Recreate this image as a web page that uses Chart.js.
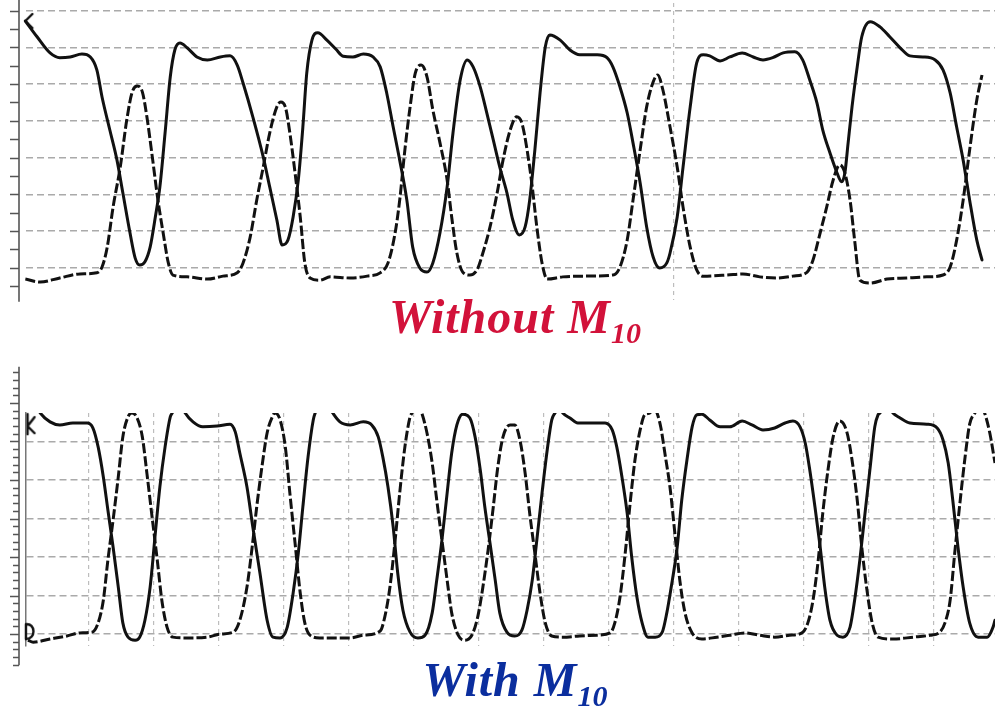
<!DOCTYPE html>
<html><head><meta charset="utf-8">
<script src="https://cdn.jsdelivr.net/npm/chart.js@4.4.1/dist/chart.umd.min.js"></script>
<style>
html,body{margin:0;padding:0;background:#fff;}
#wrap{position:relative;width:995px;height:709px;overflow:hidden;background:#fff;}
#c1{position:absolute;left:0;top:0;width:995px;height:310px;}
#c2{position:absolute;left:0;top:360px;width:995px;height:349px;}
.ttl{position:absolute;left:0;width:1030px;text-align:center;font-family:"Liberation Serif","Times New Roman",serif;font-style:italic;font-weight:bold;font-size:48px;line-height:48px;white-space:nowrap;letter-spacing:1px;}
.ttl sub{font-size:30px;vertical-align:-10px;line-height:0;letter-spacing:0;}
</style></head>
<body><div id="wrap">
<canvas id="c1" width="995" height="310"></canvas>
<canvas id="c2" width="995" height="349"></canvas>
<div class="ttl" style="top:293px;color:#D2123A">Without M<sub>10</sub></div>
<div class="ttl" style="top:656px;color:#0B2E9E">With M<sub>10</sub></div>
</div>
<script>
// ---- time axis (divisions) ----
const X_MIN = 0.03, X_MAX = 14.94;

// ---- top panel: Without M10 ----
const topSolidT = [0.02,0.20,0.40,0.55,0.71,0.89,1.02,1.12,1.20,1.32,1.43,1.52,1.63,1.71,1.78,1.86,1.94,2.02,2.09,2.17,2.25,2.32,2.40,2.51,2.66,2.82,3.02,3.17,3.28,3.37,3.52,3.68,3.78,3.89,3.97,4.06,4.14,4.22,4.29,4.35,4.43,4.52,4.66,4.80,4.91,5.06,5.22,5.37,5.48,5.58,5.68,5.78,5.89,5.98,6.09,6.20,6.29,6.40,6.51,6.60,6.71,6.82,6.91,7.02,7.12,7.22,7.32,7.43,7.52,7.62,7.71,7.78,7.86,7.94,8.02,8.09,8.25,8.40,8.55,8.82,8.97,9.06,9.17,9.28,9.37,9.48,9.58,9.68,9.78,9.89,9.94,10.05,10.14,10.25,10.35,10.45,10.55,10.71,10.86,11.05,11.22,11.37,11.52,11.68,11.86,11.98,12.09,12.20,12.29,12.40,12.51,12.58,12.63,12.68,12.74,12.82,12.89,13.02,13.17,13.32,13.48,13.63,13.83,14.02,14.14,14.25,14.35,14.45,14.55,14.66,14.74];
const topSolidV = [6.72,6.29,5.85,5.72,5.74,5.82,5.74,5.39,4.65,3.75,2.93,2.04,0.95,0.26,0.07,0.16,0.56,1.38,2.20,3.67,5.20,5.93,6.12,5.99,5.74,5.66,5.74,5.77,5.52,5.03,4.11,3.02,2.20,1.30,0.62,0.75,1.38,2.39,3.83,5.30,6.20,6.40,6.20,5.95,5.76,5.74,5.82,5.74,5.47,4.76,3.83,2.93,1.84,0.56,-0.01,-0.12,0.13,0.95,2.20,3.67,5.11,5.66,5.47,4.92,4.22,3.48,2.74,2.04,1.30,0.89,1.11,1.84,3.21,4.76,6.01,6.34,6.20,5.93,5.80,5.80,5.72,5.47,4.92,4.22,3.40,2.31,1.11,0.29,-0.01,0.13,0.40,1.38,2.74,4.38,5.58,5.80,5.77,5.63,5.74,5.85,5.74,5.66,5.72,5.85,5.88,5.66,5.11,4.49,3.75,3.13,2.58,2.34,2.58,3.40,4.38,5.47,6.29,6.70,6.56,6.29,5.99,5.77,5.74,5.66,5.39,4.76,3.83,2.93,1.84,0.75,0.21];
const topDashT = [0.02,0.25,0.55,0.86,1.12,1.20,1.28,1.37,1.48,1.58,1.66,1.74,1.82,1.89,1.98,2.06,2.14,2.22,2.29,2.51,2.82,3.06,3.28,3.37,3.48,3.58,3.68,3.78,3.89,3.95,4.02,4.09,4.17,4.25,4.32,4.40,4.55,4.71,5.02,5.28,5.48,5.60,5.71,5.78,5.86,5.94,6.02,6.11,6.20,6.29,6.40,6.51,6.58,6.66,6.75,6.86,6.97,7.06,7.17,7.28,7.37,7.48,7.58,7.66,7.74,7.82,7.89,7.97,8.05,8.29,8.60,9.06,9.17,9.28,9.37,9.48,9.58,9.68,9.75,9.83,9.94,10.05,10.14,10.25,10.35,10.45,10.82,11.06,11.32,11.58,11.83,12.05,12.14,12.25,12.35,12.45,12.55,12.63,12.71,12.78,12.86,13.02,13.28,13.58,13.89,14.14,14.25,14.35,14.45,14.55,14.66,14.74];
const topDashV = [-0.31,-0.39,-0.28,-0.17,-0.14,0.02,0.56,1.65,2.74,4.02,4.76,4.95,4.79,4.11,2.93,1.84,0.95,0.13,-0.20,-0.25,-0.31,-0.23,-0.14,0.13,0.84,1.84,2.74,3.67,4.38,4.51,4.38,3.67,2.58,1.38,0.13,-0.28,-0.34,-0.25,-0.28,-0.23,-0.14,0.13,0.95,1.84,3.21,4.38,5.30,5.52,5.20,4.30,3.40,2.39,1.38,0.40,-0.12,-0.20,-0.06,0.40,1.11,2.04,2.93,3.75,4.11,3.94,3.21,2.20,1.11,0.13,-0.31,-0.25,-0.23,-0.20,0.02,0.75,1.84,3.21,4.38,5.06,5.25,4.84,3.83,2.74,1.65,0.56,-0.06,-0.23,-0.20,-0.17,-0.25,-0.28,-0.23,-0.12,0.21,0.95,1.65,2.39,2.80,2.58,1.84,0.75,-0.34,-0.42,-0.31,-0.28,-0.25,-0.20,0.02,0.75,1.84,3.21,4.57,5.25];
const topMarkerT = [0.02];
const topMarkerV = [6.72];
const topGridV = [0,1,2,3,4,5,6,7];
const topGridT = [10];

// ---- bottom panel: With M10 ----
const botSolidT = [0.03,0.25,0.40,0.55,0.75,0.97,1.06,1.14,1.22,1.29,1.37,1.45,1.52,1.60,1.71,1.78,1.86,1.94,2.02,2.09,2.17,2.25,2.28,2.38,2.48,2.60,2.75,2.97,3.17,3.25,3.32,3.43,3.52,3.63,3.74,3.83,3.94,4.05,4.14,4.22,4.29,4.37,4.45,4.48,4.62,4.75,4.86,5.02,5.22,5.35,5.45,5.52,5.60,5.68,5.75,5.83,5.94,6.06,6.17,6.28,6.35,6.43,6.51,6.58,6.66,6.75,6.86,6.94,7.02,7.09,7.17,7.25,7.32,7.43,7.55,7.66,7.74,7.82,7.89,7.97,8.05,8.12,8.17,8.23,8.29,8.40,8.52,8.75,8.94,9.05,9.12,9.20,9.28,9.35,9.43,9.51,9.60,9.71,9.82,9.89,9.95,10.05,10.12,10.20,10.28,10.35,10.43,10.55,10.71,10.86,11.05,11.20,11.37,11.55,11.71,11.83,11.94,12.02,12.09,12.17,12.25,12.32,12.40,12.51,12.60,12.71,12.78,12.86,12.94,13.02,13.09,13.14,13.17,13.27,13.37,13.48,13.63,13.89,14.05,14.14,14.22,14.29,14.37,14.45,14.55,14.68,14.82,14.91,14.94];
const botSolidV = [6.40,5.74,5.51,5.43,5.48,5.48,5.35,4.86,4.08,3.22,2.26,1.22,0.29,-0.08,-0.16,-0.08,0.36,1.22,2.62,3.82,4.86,5.64,5.74,6.10,5.74,5.51,5.38,5.40,5.45,5.25,4.70,3.82,2.78,1.58,0.36,-0.08,-0.10,0.18,1.06,2.10,3.30,4.60,5.56,5.74,6.10,5.74,5.51,5.43,5.51,5.43,5.12,4.60,3.82,2.78,1.58,0.62,0.05,-0.10,-0.03,0.55,1.40,2.44,3.66,4.70,5.43,5.71,5.61,5.12,4.26,3.30,2.36,1.40,0.55,0.05,-0.05,0.10,0.62,1.40,2.44,3.66,4.78,5.56,5.74,5.90,5.74,5.61,5.48,5.48,5.48,5.30,4.86,4.08,3.14,2.00,0.96,0.29,-0.08,-0.08,0.05,0.55,1.14,2.26,3.48,4.52,5.38,5.69,5.71,5.56,5.38,5.38,5.53,5.43,5.30,5.35,5.48,5.53,5.38,4.96,4.26,3.30,2.26,1.22,0.36,-0.03,-0.08,0.18,0.88,1.92,3.14,4.34,5.38,5.69,5.74,6.00,5.74,5.61,5.48,5.45,5.35,5.04,4.44,3.48,2.26,1.22,0.29,-0.08,-0.08,0.18,0.36];
const botDashT = [0.06,0.14,0.40,0.66,0.86,1.05,1.14,1.22,1.29,1.37,1.45,1.52,1.60,1.66,1.74,1.82,1.89,1.97,2.05,2.12,2.20,2.29,2.51,2.82,3.02,3.22,3.32,3.43,3.51,3.58,3.66,3.74,3.82,3.86,3.94,4.02,4.09,4.17,4.25,4.32,4.40,4.55,4.75,5.02,5.22,5.48,5.55,5.63,5.71,5.78,5.86,5.94,5.97,6.05,6.12,6.20,6.28,6.35,6.43,6.51,6.58,6.68,6.78,6.89,6.98,7.06,7.14,7.22,7.29,7.37,7.48,7.55,7.63,7.71,7.78,7.86,7.94,8.02,8.12,8.29,8.55,8.82,9.02,9.09,9.17,9.25,9.32,9.40,9.48,9.55,9.63,9.69,9.75,9.80,9.86,9.94,10.02,10.09,10.17,10.28,10.43,10.66,10.86,11.09,11.32,11.55,11.78,11.97,12.06,12.14,12.22,12.29,12.37,12.45,12.55,12.66,12.74,12.82,12.89,12.97,13.05,13.14,13.37,13.68,13.94,14.09,14.17,14.25,14.32,14.40,14.48,14.55,14.63,14.71,14.78,14.86,14.94];
const botDashV = [-0.16,-0.21,-0.13,-0.05,0.03,0.05,0.29,0.88,1.92,2.96,4.08,5.12,5.64,5.74,5.61,5.12,4.18,3.04,1.92,0.88,0.18,-0.08,-0.10,-0.08,0.00,0.05,0.36,1.22,2.26,3.30,4.34,5.22,5.64,5.74,5.56,4.86,3.66,2.36,1.06,0.29,-0.03,-0.10,-0.10,-0.10,-0.03,0.08,0.44,1.22,2.44,3.66,4.86,5.64,5.74,6.00,5.74,5.22,4.44,3.48,2.44,1.40,0.55,-0.03,-0.16,-0.03,0.44,1.22,2.18,3.30,4.34,5.12,5.43,5.43,5.04,4.18,3.14,2.10,1.06,0.29,-0.05,-0.08,-0.05,-0.03,0.03,0.29,0.96,2.10,3.30,4.52,5.30,5.69,5.74,5.90,5.69,5.35,4.70,3.80,2.52,1.40,0.55,0.03,-0.13,-0.08,-0.03,0.03,-0.03,-0.08,-0.03,0.03,0.29,0.88,1.92,3.14,4.26,5.12,5.53,5.25,4.52,3.48,2.26,1.14,0.29,-0.08,-0.13,-0.08,-0.03,0.05,0.29,0.88,2.10,3.40,4.60,5.45,5.74,5.95,5.74,5.22,4.44];
const botMarkerT = [0.10, 0.09];
const botMarkerV = [5.45, 0.05];
const botGridV = [0,1,2,3,4,5];
const botGridT = [1,2,3,4,5,6,7,8,9,10,11,12,13,14];

// left scope axis tick values
const topAxisFrom = -0.93, topAxisTo = 7.30, topTickStep = 0.5, topTickFirst = -0.5, topTickLast = 7.0;
const botAxisFrom = -0.81, botAxisTo = 6.94, botTickStep = 0.2, botTickFirst = -0.8, botTickLast = 6.8;

function pts(t, v){ const n=Math.min(t.length,v.length); const a=[]; for(let i=0;i<n;i++) a.push({x:t[i],y:v[i]}); return a; }
function range(a,b,s){ const r=[]; for(let v=a; v<=b+1e-9; v+=s) r.push(Math.round(v*100)/100); return r; }

function mkIcon(draw){ const c=document.createElement('canvas'); c.width=24; c.height=24; const g=c.getContext('2d'); g.strokeStyle='#111'; g.lineWidth=2.4; g.lineCap='round'; g.lineJoin='round'; draw(g); return c; }
const iconLt = mkIcon(g=>{ g.beginPath(); g.moveTo(19,5); g.lineTo(12,12); g.lineTo(19,19); g.stroke(); });
const iconK = mkIcon(g=>{ g.beginPath(); g.moveTo(9,2); g.lineTo(9,22); g.moveTo(16,5); g.lineTo(9,14); g.lineTo(16,21); g.stroke(); });
const iconD = mkIcon(g=>{ g.beginPath(); g.moveTo(8,4); g.bezierCurveTo(18,3,18,19,8,19); g.moveTo(8,4); g.lineTo(8,19); g.stroke(); });

const leftAxis = {
  id:'leftAxis',
  afterDraw(chart, args, o){
    const y = chart.scales.y, ctx = chart.ctx;
    ctx.save();
    ctx.strokeStyle = '#555'; ctx.lineWidth = 1.6; ctx.setLineDash([]);
    ctx.beginPath();
    ctx.moveTo(o.x, y.getPixelForValue(o.to)); ctx.lineTo(o.x, y.getPixelForValue(o.from));
    o.ticks.forEach(v=>{
      const py = Math.round(y.getPixelForValue(v)) + 0.5;
      const major = o.majorEvery ? Math.abs(v - Math.round(v)) < 1e-6 : true;
      ctx.moveTo(o.x - (major ? o.majorLen : o.minorLen), py); ctx.lineTo(o.x, py);
    });
    ctx.stroke();
    ctx.restore();
  }
};

function build(id, cfg){
  return new Chart(document.getElementById(id), {
    type:'line',
    data:{ datasets:[
      { data:pts(cfg.solidT,cfg.solidV), borderColor:'#111', borderWidth:3, pointRadius:0, cubicInterpolationMode:'monotone', fill:false, clip:cfg.clip, borderJoinStyle:'round', borderCapStyle:'round' },
      { data:pts(cfg.dashT,cfg.dashV), borderColor:'#111', borderWidth:3, borderDash:[10,3], pointRadius:0, cubicInterpolationMode:'monotone', fill:false, clip:cfg.clip, borderJoinStyle:'round' },
      { data:pts(cfg.markT,cfg.markV), showLine:false, pointStyle:cfg.icons, pointRadius:8, clip:false, borderColor:'#111', backgroundColor:'#111' }
    ]},
    options:{
      responsive:false, animation:false, events:[],
      layout:{ autoPadding:false, padding:{ left:26, right:0, top:cfg.padTop, bottom:cfg.padBottom } },
      plugins:{ legend:{display:false}, tooltip:{enabled:false}, leftAxis:cfg.axis },
      scales:{
        x:{ type:'linear', min:X_MIN, max:X_MAX, ticks:{display:false},
            afterBuildTicks:s=>{ s.ticks = cfg.gridT.map(v=>({value:v})); },
            grid:{ drawTicks:false, color:'#bdbdbd', lineWidth:1.2 },
            border:{ display:false, dash:[4,4] } },
        y:{ type:'linear', min:cfg.yMin, max:cfg.yMax, ticks:{display:false},
            afterBuildTicks:s=>{ s.ticks = cfg.gridV.map(v=>({value:v})); },
            grid:{ drawTicks:false, color:'#aaaaaa', lineWidth:1.5 },
            border:{ display:cfg.border, color:'#777', width:1.5, dash:[7,4] } }
      }
    },
    plugins:[leftAxis]
  });
}

build('c1', {
  solidT:topSolidT, solidV:topSolidV, dashT:topDashT, dashV:topDashV,
  markT:topMarkerT, markV:topMarkerV, icons:[iconLt],
  gridV:topGridV, gridT:topGridT, yMin:-0.88, yMax:7.21, padTop:3, padBottom:10,
  clip:{left:10,top:10,right:0,bottom:10}, border:false,
  axis:{ x:19, from:topAxisFrom, to:topAxisTo, ticks:range(topTickFirst,topTickLast,topTickStep), majorLen:9, minorLen:9, majorEvery:false }
});
build('c2', {
  solidT:botSolidT, solidV:botSolidV, dashT:botDashT, dashV:botDashV,
  markT:botMarkerT, markV:botMarkerV, icons:[iconK, iconD],
  gridV:botGridV, gridT:botGridT, yMin:-0.31, yMax:5.74, padTop:53, padBottom:63,
  clip:0, border:true,
  axis:{ x:19, from:botAxisFrom, to:botAxisTo, ticks:range(botTickFirst,botTickLast,botTickStep), majorLen:9, minorLen:6, majorEvery:true }
});
</script>
</body></html>
